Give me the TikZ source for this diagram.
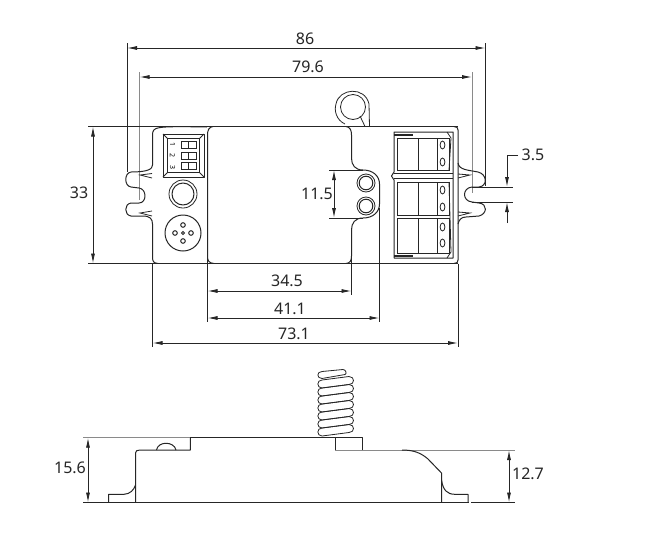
\documentclass[tikz,border=0pt]{standalone}
\usepackage{fontspec}
\setmainfont{Noto Sans}
\usetikzlibrary{arrows.meta}
\definecolor{ink}{HTML}{262626}
\definecolor{soft}{HTML}{8A8A8A}
\tikzset{
  part/.style={draw=ink,line width=1pt,line join=round},
  thin part/.style={draw=ink,line width=0.8pt},
  extline/.style={draw=ink,line width=0.9pt},
  softline/.style={draw=soft,line width=1pt},
  dimline/.style={draw=ink,line width=0.9pt,{Latex[length=10pt,width=4pt]}-{Latex[length=10pt,width=4pt]}},
  onearrow/.style={draw=ink,line width=0.9pt,-{Latex[length=10pt,width=4pt]}},
  dimtext/.style={font=\fontsize{16}{16}\selectfont,text=ink,inner sep=0pt}
}
\begin{document}
\begin{tikzpicture}[x=1pt,y=-1pt]
\useasboundingbox[fill=white] (0,0) rectangle (650,536);
% ---- coordinates used by the dimension lines
\coordinate (a86l) at (127,48); \coordinate (a86r) at (485.5,48);
\coordinate (a796l) at (139.5,77); \coordinate (a796r) at (472,77);
\coordinate (a33t) at (93,126.5); \coordinate (a33b) at (93,263.5);
\coordinate (a115t) at (334,170); \coordinate (a115b) at (334,218);
\coordinate (a345l) at (207.5,291); \coordinate (a345r) at (351.5,291);
\coordinate (a411l) at (207.5,318); \coordinate (a411r) at (379.5,318);
\coordinate (a731l) at (152.5,343); \coordinate (a731r) at (458,343);
\coordinate (a156t) at (88,437.7); \coordinate (a156b) at (88,502.5);
\coordinate (a127t) at (509,450); \coordinate (a127b) at (509,502.5);
\coordinate (a35a) at (518,155); \coordinate (a35b) at (507,155); \coordinate (a35c) at (507,187);
\coordinate (a35d) at (507,223); \coordinate (a35e) at (507,202);
% ---- extension lines, top view
\draw[extline] (127,43) -- (127,172);
\draw[softline] (139.5,72) -- (139.5,200);
\draw[extline] (485.5,43) -- (485.5,186);
\draw[softline] (472,72) -- (472,193);
\draw[extline] (88,126.5) -- (458,126.5);
\draw[extline] (88,263.5) -- (458,263.5);
\draw[extline] (152.5,263.5) -- (152.5,347);
\draw[extline] (458,263.5) -- (458,347);
\draw[extline] (207.5,255) -- (207.5,322);
\draw[extline] (351.5,255) -- (351.5,295);
\draw[extline] (379.5,208) -- (379.5,322);
\draw[extline] (329,170) -- (363,170);
\draw[extline] (329,218) -- (363,218);
\draw[extline] (472,187) -- (513,187);
\draw[extline] (472,202) -- (513,202);
% ---- body outline, top view
\draw[part] (207,127) .. controls (153,126) and (153,127) .. (152.5,135) -- (152.5,165)
  .. controls (152.5,169) and (148,172) .. (131,172)
  .. controls (124,173) and (124,186) .. (131,187) -- (139,188)
  .. controls (147,189) and (147,203) .. (139,203) -- (131,203)
  .. controls (124,204) and (124,215) .. (131,216) -- (143,216)
  .. controls (150,216) and (152.5,219) .. (152.5,224) -- (152.5,257)
  .. controls (152.5,262) and (154,263) .. (158,263.5);
\draw[part] (213,126.5) .. controls (209,127) and (207.5,130) .. (207.5,135) -- (207.5,256)
  .. controls (207.5,261) and (209,263) .. (214,263.5);
\draw[part] (346,126.5) .. controls (350,127) and (351.5,130) .. (351.5,135) -- (351.5,158)
  .. controls (351.5,165) and (355,170) .. (363,170)
  .. controls (373,170) and (379.5,176) .. (379.5,184) -- (379.5,204)
  .. controls (379.5,212) and (373,218) .. (363,218)
  .. controls (355,218) and (351.5,223) .. (351.5,230) -- (351.5,256)
  .. controls (351.5,261) and (350,263) .. (346,263.5);
\draw[part] (454,126.5) .. controls (457,126.5) and (458,128) .. (458,130) -- (458,260)
  .. controls (458,262) and (457,263.5) .. (454,263.5);
\draw[part] (458,163) .. controls (459,170) and (468,170) .. (478,172)
  .. controls (487,174) and (488,186) .. (479,187) -- (472,187)
  .. controls (462,188) and (462,201) .. (472,202) -- (479,203)
  .. controls (488,204) and (487,214) .. (479,216) -- (466,217)
  .. controls (461,217) and (459,220) .. (458,224);
% ---- ear wedges
\draw[thin part] (152,173.5) -- (140,175) -- (152,178);
\draw[thin part] (152,211) -- (140,213) -- (152,216);
\draw[thin part] (458,174) -- (470,175) -- (458,178);
\draw[thin part] (458,212) -- (470,213) -- (458,216);
% ---- DIP switch
\draw[part] (163,134) rectangle (204,177);
\draw[thin part] (167.5,138.5) rectangle (199.5,172.5);
\draw[thin part] (163,134) -- (167.5,138.5) (204,134) -- (199.5,138.5) (163,177) -- (167.5,172.5) (204,177) -- (199.5,172.5);
\foreach \t/\b in {141/148,152/159,162.5/169.5}{
  \draw[thin part] (181,\t) rectangle (196,\b);
  \draw[thin part] (188.5,\t) -- (188.5,\b);
}
\node[rotate=-90,font=\fontsize{7}{7}\bfseries\selectfont,inner sep=0pt,text=black] (sw1) at (172.5,144.5) {1};
\node[rotate=-90,font=\fontsize{7}{7}\bfseries\selectfont,inner sep=0pt,text=black] (sw2) at (172.5,155.5) {2};
\node[rotate=-90,font=\fontsize{7}{7}\bfseries\selectfont,inner sep=0pt,text=black] (sw3) at (172.5,167) {3};
% ---- button and sensor
\draw[thin part] (183,194) circle (14);
\draw[part] (183,194) circle (11);
\draw[part] (183,233) circle (18);
\foreach \x/\y in {183/225,183/241,175/233,191/233}{\draw[part] (\x,\y) circle (2.3);}
\draw[thin part] (183,233) circle (1.5);
% ---- LEDs
\foreach \y in {183,206}{
  \draw[thin part] (366,\y) circle (9);
  \draw[part] (366,\y) circle (6.8);
}
% ---- antenna ring
\draw[thin part] (353,107) circle (12.5);
\draw[thin part] (345,124) .. controls (336,120) and (334,110) .. (336,104)
  .. controls (339,88) and (365,86) .. (369,104) -- (369.5,126.5);
\draw[thin part] (360,116) -- (365,126.5);
% ---- terminal block
\draw[part] (394,132) -- (453,132) -- (453,258) -- (394,258) -- (394,180) -- (391.5,176) -- (394,172) -- cycle;
\draw[thin part] (394,134) -- (413,134) (394,135.5) -- (413,135.5);
\draw[thin part] (394,255) -- (413,255) (394,256.5) -- (413,256.5);
\draw[thin part] (447,132) -- (451,138) -- (449,170);
\draw[thin part] (447,258) -- (451,252) -- (449,182);
\draw[thin part] (394,173.5) -- (453,173.5) (394,178) -- (453,178);
\draw[thin part] (397.5,138) rectangle (449,170.5);
\draw[thin part] (397.5,182) rectangle (449,215.5);
\draw[thin part] (397.5,218.5) rectangle (449,253);
\foreach \t/\b in {138/170.5,182/215.5,218.5/253}{
  \draw[thin part] (418.5,\t) -- (418.5,\b);
  \draw[thin part] (437,\t) -- (437,\b);
}
\foreach \y in {145,162,190,207,227,243}{\draw[thin part] (442.5,\y) ellipse (2.4 and 4);}
% ---- side view
\draw[softline] (83,437.7) -- (190,437.7);
\draw[extline] (83,502.5) -- (469,502.5);
\draw[extline] (471,502.5) -- (515,502.5);
\draw[part] (190.3,437.7) -- (362,437.7) -- (362,450);
\draw[part] (335,437.7) -- (335,450);
\draw[softline] (335,450) -- (515,450);
\draw[part] (190.3,437.7) -- (190.3,450) -- (140,450) .. controls (137,450) and (135.5,451) .. (135.5,453) -- (135.5,502.5);
\draw[part] (135.5,485) .. controls (134,490) and (130,494) .. (124,494.3) -- (108.5,494.3) -- (108.5,502.5);
\draw[part] (156.5,450) .. controls (158,441) and (174,441) .. (176,450);
\draw[part] (402,450) .. controls (414,450) and (421,453) .. (428,459) -- (441.5,473) -- (441.5,502.5);
\draw[part] (441.5,480) .. controls (443,490) and (447,494.3) .. (455,494.3) -- (468,494.3) -- (468,502.5);
% ---- antenna spring, side view
\begin{scope}
\clip (300,360) rectangle (370,437.2);
\foreach \y in {384,392,400,408,416,424,432}{
  \draw[thin part] (322,\y-4) -- (349,\y-7.5)
    .. controls (355,\y-7.5) and (355,\y+0.5) .. (349,\y+0.5)
    -- (322,\y+4) .. controls (316.5,\y+4) and (316.5,\y-4) .. (322,\y-4) -- cycle;
}
\end{scope}
\draw[thin part,fill=white] (322,371.5) -- (343,369.5) .. controls (346,369.5) and (347,374) .. (345,374.5)
  -- (322,378.5) .. controls (316.5,378.5) and (316.5,371.5) .. (322,371.5) -- cycle;
% ---- dimensions
\draw[dimline] (a86l) -- (a86r);
\draw[dimline] (a796l) -- (a796r);
\draw[dimline] (a33t) -- (a33b);
\draw[dimline] (a115t) -- (a115b);
\draw[dimline] (a345l) -- (a345r);
\draw[dimline] (a411l) -- (a411r);
\draw[dimline] (a731l) -- (a731r);
\draw[dimline] (a156t) -- (a156b);
\draw[dimline] (a127t) -- (a127b);
\draw[onearrow] (a35a) -- (a35b) -- (a35c);
\draw[onearrow] (a35d) -- (a35e);
\node[dimtext] (t86) at (305,39) {86};
\node[dimtext] (t796) at (308,67) {79.6};
\node[dimtext] (t33) at (79,193) {33};
\node[dimtext] (t115) at (317,194) {11.5};
\node[dimtext] (t345) at (287,281) {34.5};
\node[dimtext] (t411) at (290,309) {41.1};
\node[dimtext] (t731) at (294,334) {73.1};
\node[dimtext] (t35) at (533,155) {3.5};
\node[dimtext] (t156) at (70,468) {15.6};
\node[dimtext] (t127) at (528,474) {12.7};
\end{tikzpicture}
\end{document}
